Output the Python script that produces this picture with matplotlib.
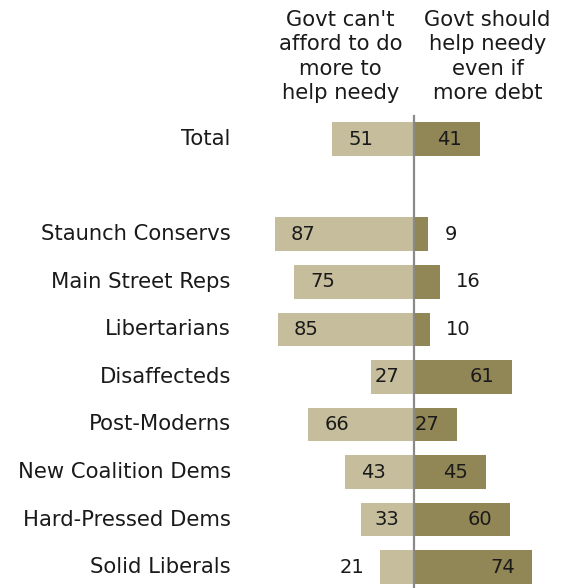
import matplotlib

matplotlib.use("Agg")
import matplotlib.pyplot as plt

groups = [
    "Total",
    "",
    "Staunch Conservs",
    "Main Street Reps",
    "Libertarians",
    "Disaffecteds",
    "Post-Moderns",
    "New Coalition Dems",
    "Hard-Pressed Dems",
    "Solid Liberals",
]
cant_afford = [51, None, 87, 75, 85, 27, 66, 43, 33, 21]
should_help = [41, None, 9, 16, 10, 61, 27, 45, 60, 74]

left_header = "Govt can't\nafford to do\nmore to\nhelp needy"
right_header = "Govt should\nhelp needy\neven if\nmore debt"

LEFT_COLOR = "#c6bd9c"
RIGHT_COLOR = "#918656"
FS_NUM = 14
FS_TXT = 15.2


def main():
    fig = plt.figure(figsize=(5.63, 5.88), dpi=100)
    ax = fig.add_axes([0, 0, 1, 1])
    ax.set_xlim(-258.75, 93.1)
    ax.set_ylim(9.44, -2.93)
    ax.axis("off")

    for i, (name, lv, rv) in enumerate(zip(groups, cant_afford, should_help)):
        if lv is None:
            continue
        ax.barh(i, -lv, height=0.71, color=LEFT_COLOR, edgecolor="none")
        ax.barh(i, rv, height=0.71, color=RIGHT_COLOR, edgecolor="none")
        ax.text(-114.5, i, name, ha="right", va="center", fontsize=FS_TXT, color="#1a1a1a")

        # left value label
        if lv >= 25:
            ax.text(min(-lv + 10, -24.5), i, str(lv), ha="left", va="center",
                    fontsize=FS_NUM, color="#1a1a1a")
        else:
            ax.text(-lv - 10, i, str(lv), ha="right", va="center",
                    fontsize=FS_NUM, color="#1a1a1a")
        # right value label
        if rv >= 25:
            ax.text(rv - 11, i, str(rv), ha="right", va="center",
                    fontsize=FS_NUM, color="#1a1a1a")
        else:
            ax.text(rv + 10, i, str(rv), ha="left", va="center",
                    fontsize=FS_NUM, color="#1a1a1a")

    ax.plot([0, 0], [-0.5, 9.44], color="#8a8a8a", lw=1.6, zorder=3)

    ax.text(-46, -2.72, left_header, ha="center", va="top", fontsize=FS_TXT,
            linespacing=1.27, color="#1a1a1a")
    ax.text(46, -2.72, right_header, ha="center", va="top", fontsize=FS_TXT,
            linespacing=1.27, color="#1a1a1a")

    fig.savefig("out.png", dpi=100)


if __name__ == "__main__":
    main()
